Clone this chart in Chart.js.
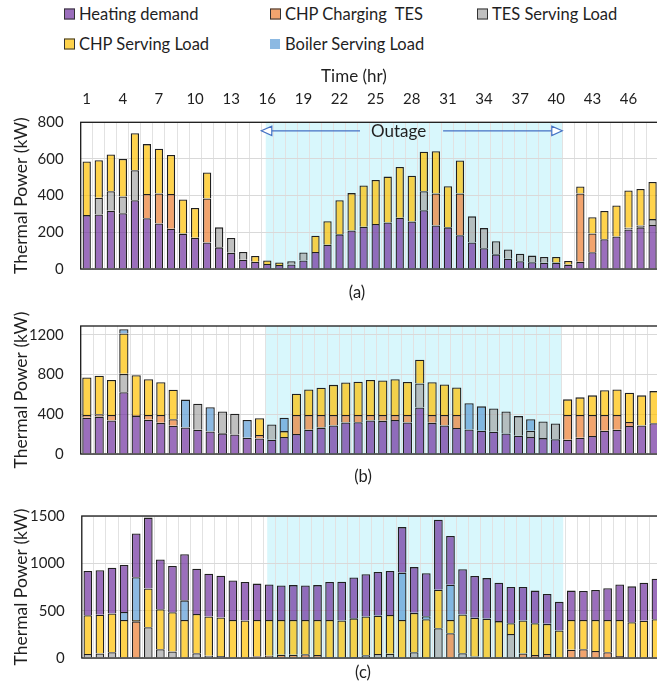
<!DOCTYPE html>
<html>
<head>
<meta charset="utf-8">
<script src="https://cdn.jsdelivr.net/npm/chart.js@4.4.0/dist/chart.umd.min.js"></script>
<style>
  html, body { margin: 0; padding: 0; background: #fff; }
  #wrap { position: relative; width: 657px; height: 684px; overflow: hidden; font-family: Lato, "Open Sans", sans-serif; color: #1f1f1f; }
  canvas { position: absolute; left: 0; }
  .txt { position: absolute; white-space: pre; line-height: 1; transform: translate(-50%, -50%); }
  .leg { position: absolute; font-size: 16.5px; line-height: 1; white-space: pre; transform: translateY(-50%); }
  .mk { position: absolute; width: 9px; height: 9px; transform: translateY(-50%); }
</style>
</head>
<body>
<div id="wrap">
  <canvas id="pa" width="700" height="235" style="top:60px"></canvas>
  <canvas id="pb" width="700" height="180" style="top:300px"></canvas>
  <canvas id="pc" width="700" height="194" style="top:490px"></canvas>
  <div id="legend"></div>
  <div class="txt" style="left:354px; top:75px; font-size:17px">Time (hr)</div>
  <div class="txt" style="left:357px; top:292px; font-size:16.5px">(a)</div>
  <div class="txt" style="left:363px; top:476px; font-size:16.5px">(b)</div>
  <div class="txt" style="left:363px; top:672px; font-size:16.5px">(c)</div>
</div>
<script>
// Hours of the simulated period
const hours = ['1','2','3','4','5','6','7','8','9','10','11','12','13','14','15','16',
  '17','18','19','20','21','22','23','24','25','26','27','28','29','30','31','32',
  '33','34','35','36','37','38','39','40','41','42','43','44','45','46','47','48'];

// Series names
const seriesNames = ['Heating demand', 'CHP Charging  TES', 'TES Serving Load', 'CHP Serving Load', 'Boiler Serving Load'];

// (a) thermal dispatch, kW
const aHeating   = [294,297,318,304,375,277,248,220,193,171,145,118,88,51,40,27,22,25,46,93,132,189,210,230,245,254,280,259,321,237,227,184,145,113,80,56,42,37,34,35,24,39,91,162,177,216,227,240];
const aChpCharge = [0,0,0,0,0,132,164,189,0,0,240,0,0,0,0,0,0,0,0,0,0,0,0,0,0,0,0,0,0,175,0,228,0,0,0,0,0,0,0,0,0,373,103,0,0,0,0,0];
const aTesServe  = [0,92,106,91,164,0,0,0,0,0,0,109,81,42,0,0,0,17,44,0,0,0,0,0,0,0,0,0,103,0,0,0,142,110,72,50,41,36,32,0,0,0,0,0,0,9,10,32];
const aChpServe  = [292,204,201,205,201,272,244,213,186,162,141,0,0,0,31,20,13,0,0,89,128,186,204,226,240,250,276,250,215,230,224,180,0,0,0,0,0,0,0,31,20,38,88,154,169,203,199,203];
const aBoiler    = [0,0,0,0,0,0,0,0,0,0,0,0,0,0,0,0,0,0,0,0,0,0,0,0,0,0,0,0,0,0,0,0,0,0,0,0,0,0,0,0,0,0,0,0,0,0,0,0];

// (b) thermal dispatch, kW
const bHeating   = [365,377,337,622,383,345,314,285,268,245,228,208,197,165,157,143,171,202,245,266,288,317,320,337,334,343,317,468,314,288,262,248,234,225,206,185,171,160,148,143,165,182,234,245,283,288,311,320];
const bChpCharge = [29,23,57,0,11,49,80,66,0,0,0,0,0,0,34,0,0,192,149,128,106,77,74,57,60,51,77,0,80,106,132,0,0,0,0,0,0,0,0,251,229,212,160,149,39,0,0,0];
const bTesServe  = [0,0,0,186,0,0,0,0,0,261,0,220,208,0,0,154,0,0,0,0,0,0,0,0,0,0,0,243,0,0,0,0,0,234,222,197,63,168,160,0,0,0,0,0,0,0,0,0];
const bChpServe  = [377,389,352,406,400,360,329,297,0,0,0,0,0,0,169,0,60,214,257,274,303,326,335,352,346,360,331,240,329,306,277,0,0,0,0,0,0,0,0,157,177,197,249,257,295,303,323,330];
const bBoiler    = [0,0,0,43,0,0,0,0,280,0,243,0,0,178,0,0,134,0,0,0,0,0,0,0,0,0,0,0,0,0,0,263,246,0,0,0,117,0,0,0,0,0,0,0,0,0,0,0];

// (c) thermal dispatch, kW
const cHeating   = [468,471,484,497,461,748,526,490,487,480,452,442,416,407,384,375,365,368,365,368,401,410,432,448,461,465,481,483,455,738,515,478,442,428,406,383,354,345,316,303,310,307,317,336,375,380,403,429];
const cChpCharge = [0,0,0,0,387,0,0,0,0,0,0,0,5,5,19,25,35,35,39,32,0,0,0,0,0,0,0,0,0,0,261,0,0,0,0,0,48,32,42,0,87,93,74,61,22,0,0,0];
const cTesServe  = [42,48,61,0,0,325,93,68,0,51,25,20,0,0,0,0,0,0,0,0,10,0,10,29,42,45,0,61,0,315,0,51,15,5,10,254,0,0,0,10,0,0,0,0,0,0,0,0];
const cChpServe  = [409,409,409,402,15,410,422,415,402,413,413,408,397,391,383,377,367,367,363,370,392,396,409,409,406,409,402,416,409,407,141,409,410,411,380,113,348,335,319,280,315,309,328,341,380,377,393,409];
const cBoiler    = [0,0,0,84,452,0,0,0,207,0,0,0,0,0,0,0,0,0,0,0,0,0,0,0,0,0,500,0,32,0,372,0,0,0,0,0,0,0,0,0,0,0,0,0,0,0,0,0];

// Axis tick labels
const hourTicks = ['1','4','7','10','13','16','19','22','25','28','31','34','37','40','43','46'];
const aTicks = [0, 200, 400, 600, 800];
const bTicks = [0, 400, 800, 1200];
const cTicks = [0, 500, 1000, 1500];

const FONT = 'Lato, "Open Sans", sans-serif';
const fills = {
  heating: 'rgba(112,48,160,0.7)',
  charge:  'rgba(237,125,49,0.7)',
  tes:     'rgba(165,165,165,0.7)',
  chp:     'rgba(255,192,0,0.7)',
  boiler:  'rgba(91,155,213,0.7)'
};
const EDGE = '#202020';

// Legend
(function buildLegend() {
  const items = [
    { text: seriesNames[0], c: fills.heating, x: 64, y: 14, border: true },
    { text: seriesNames[1], c: fills.charge,  x: 270, y: 14, border: true },
    { text: seriesNames[2], c: fills.tes,     x: 477, y: 14, border: true },
    { text: seriesNames[3], c: fills.chp,     x: 64, y: 44, border: true },
    { text: seriesNames[4], c: fills.boiler,  x: 270, y: 44, border: false }
  ];
  const host = document.getElementById('legend');
  items.forEach(it => {
    const m = document.createElement('div');
    m.className = 'mk';
    m.style.left = it.x + 'px';
    m.style.top = it.y + 'px';
    m.style.background = it.c;
    if (it.border) { m.style.border = '1px solid #333'; } else { m.style.width = '10px'; m.style.height = '10px'; }
    host.appendChild(m);
    const t = document.createElement('div');
    t.className = 'leg';
    t.style.left = (it.x + 15) + 'px';
    t.style.top = it.y + 'px';
    t.textContent = it.text;
    host.appendChild(t);
  });
})();

// Shaded outage window, given in category units from the left edge of hour 1
const outageShade = {
  id: 'outageShade',
  beforeDraw(chart, args, opts) {
    const { ctx, chartArea: a, scales: { x } } = chart;
    const w = x.getPixelForValue(1) - x.getPixelForValue(0);
    const edge = x.getPixelForValue(0) - w / 2;
    const x0 = edge + opts.from * w, x1 = edge + opts.to * w;
    ctx.save();
    ctx.fillStyle = '#d8f7fc';
    ctx.fillRect(x0, a.top, x1 - x0, a.bottom - a.top);
    ctx.restore();
  }
};

// Frame around the plot area
const plotFrame = {
  id: 'plotFrame',
  afterDatasetsDraw(chart) {
    const { ctx, chartArea: a } = chart;
    ctx.save();
    ctx.strokeStyle = '#1a1a1a';
    ctx.lineWidth = 1.3;
    ctx.strokeRect(a.left, a.top, a.right - a.left, a.bottom - a.top);
    ctx.restore();
  }
};

// Double-headed "Outage" arrow
const outageArrow = {
  id: 'outageArrow',
  afterDatasetsDraw(chart, args, opts) {
    if (!opts.show) return;
    const { ctx, chartArea: a, scales: { x } } = chart;
    const w = x.getPixelForValue(1) - x.getPixelForValue(0);
    const edge = x.getPixelForValue(0) - w / 2;
    const px = u => edge + u * w;
    const y = a.top + 8.5;
    const xl = px(opts.from), xr = px(opts.to);
    const g0 = px(opts.gapFrom), g1 = px(opts.gapTo);
    const hl = 10.5, hh = 4.7;
    ctx.save();
    ctx.strokeStyle = '#4472c4';
    ctx.lineWidth = 1.2;
    ctx.beginPath();
    ctx.moveTo(xl + hl, y); ctx.lineTo(g0, y);
    ctx.moveTo(g1, y); ctx.lineTo(xr - hl, y);
    ctx.stroke();
    ctx.beginPath();
    ctx.moveTo(xl, y); ctx.lineTo(xl + hl, y - hh); ctx.lineTo(xl + hl, y + hh); ctx.closePath();
    ctx.moveTo(xr, y); ctx.lineTo(xr - hl, y - hh); ctx.lineTo(xr - hl, y + hh); ctx.closePath();
    ctx.fillStyle = '#ffffff';
    ctx.fill();
    ctx.stroke();
    ctx.fillStyle = '#1f1f1f';
    ctx.font = '17px ' + FONT;
    ctx.textAlign = 'center';
    ctx.textBaseline = 'middle';
    ctx.fillText(opts.text, px(opts.textAt), y + 0.5);
    ctx.restore();
  }
};

function ds(label, data, color) {
  return { label, data, backgroundColor: color, borderColor: EDGE, borderWidth: 1.3 };
}

function makePanel(id, p) {
  const xAxis = {
    type: 'category',
    stacked: true,
    position: p.topAxis ? 'top' : 'bottom',
    grid: { color: '#e2e2e2', lineWidth: 1, drawTicks: false, offset: true },
    border: { display: false },
    ticks: p.topAxis ? {
      display: true, autoSkip: false, maxRotation: 0, minRotation: 0, padding: 14,
      color: '#1f1f1f', font: { family: FONT, size: 15 },
      callback: (v, i) => (hourTicks.includes(hours[i]) ? hours[i] : '')
    } : { display: false },
    afterFit: s => { s.height = p.topAxis ? p.axisH : 0; }
  };
  return new Chart(document.getElementById(id), {
    type: 'bar',
    data: { labels: hours, datasets: p.datasets },
    options: {
      responsive: false,
      animation: false,
      devicePixelRatio: 1,
      layout: { padding: { left: 0, right: p.padRight, top: p.padTop, bottom: p.padBottom } },
      datasets: { bar: { categoryPercentage: 1, barPercentage: p.barPct } },
      plugins: {
        legend: { display: false },
        tooltip: { enabled: false },
        outageShade: { from: p.shadeFrom, to: p.shadeTo },
        outageArrow: p.arrow || { show: false }
      },
      scales: {
        x: xAxis,
        y: {
          stacked: true,
          min: 0, max: p.yMax,
          grid: { color: '#d9d9d9', lineWidth: 1, drawTicks: false },
          border: { display: false },
          afterBuildTicks: s => { s.ticks = p.yTicks.map(v => ({ value: v })); },
          ticks: { padding: 17, color: '#1f1f1f', font: { family: FONT, size: 15 }, callback: v => String(v) },
          title: { display: true, text: 'Thermal Power (kW)', color: '#1f1f1f', font: { family: FONT, size: 17.5 }, padding: { top: 11, bottom: 0 } },
          afterFit: s => { s.width = p.yW; }
        }
      }
    },
    plugins: [outageShade, plotFrame, outageArrow]
  });
}

makePanel('pa', {
  topAxis: true, axisH: 62.3, padTop: 0, padBottom: 15, padRight: 41.4, yW: 80.7,
  yMax: 800, yTicks: aTicks, barPct: 0.69, shadeFrom: 15.37, shadeTo: 40,
  arrow: { show: true, from: 15, to: 40, gapFrom: 23.2, gapTo: 30.1, textAt: 26.4, text: 'Outage' },
  datasets: [
    ds(seriesNames[0], aHeating, fills.heating),
    ds(seriesNames[1], aChpCharge, fills.charge),
    ds(seriesNames[2], aTesServe, fills.tes),
    ds(seriesNames[3], aChpServe, fills.chp),
    ds(seriesNames[4], aBoiler, fills.boiler)
  ]
});

makePanel('pb', {
  topAxis: false, padTop: 13.3, padBottom: 16.7, padRight: 27.5, yW: 80.7,
  yMax: 1290, yTicks: bTicks, barPct: 0.75, shadeFrom: 15, shadeTo: 39,
  datasets: [
    ds(seriesNames[0], bHeating, fills.heating),
    ds(seriesNames[1], bChpCharge, fills.charge),
    ds(seriesNames[2], bTesServe, fills.tes),
    ds(seriesNames[3], bChpServe, fills.chp),
    ds(seriesNames[4], bBoiler, fills.boiler)
  ]
});

// In (c) the supply stack sits underneath the demand
makePanel('pc', {
  topAxis: false, padTop: 13.3, padBottom: 25.7, padRight: 38, yW: 81.8,
  yMax: 1500, yTicks: cTicks, barPct: 0.72, shadeFrom: 15.34, shadeTo: 39.83,
  datasets: [
    ds(seriesNames[1], cChpCharge, fills.charge),
    ds(seriesNames[2], cTesServe, fills.tes),
    ds(seriesNames[3], cChpServe, fills.chp),
    ds(seriesNames[4], cBoiler, fills.boiler),
    ds(seriesNames[0], cHeating, fills.heating)
  ]
});
</script>
</body>
</html>
